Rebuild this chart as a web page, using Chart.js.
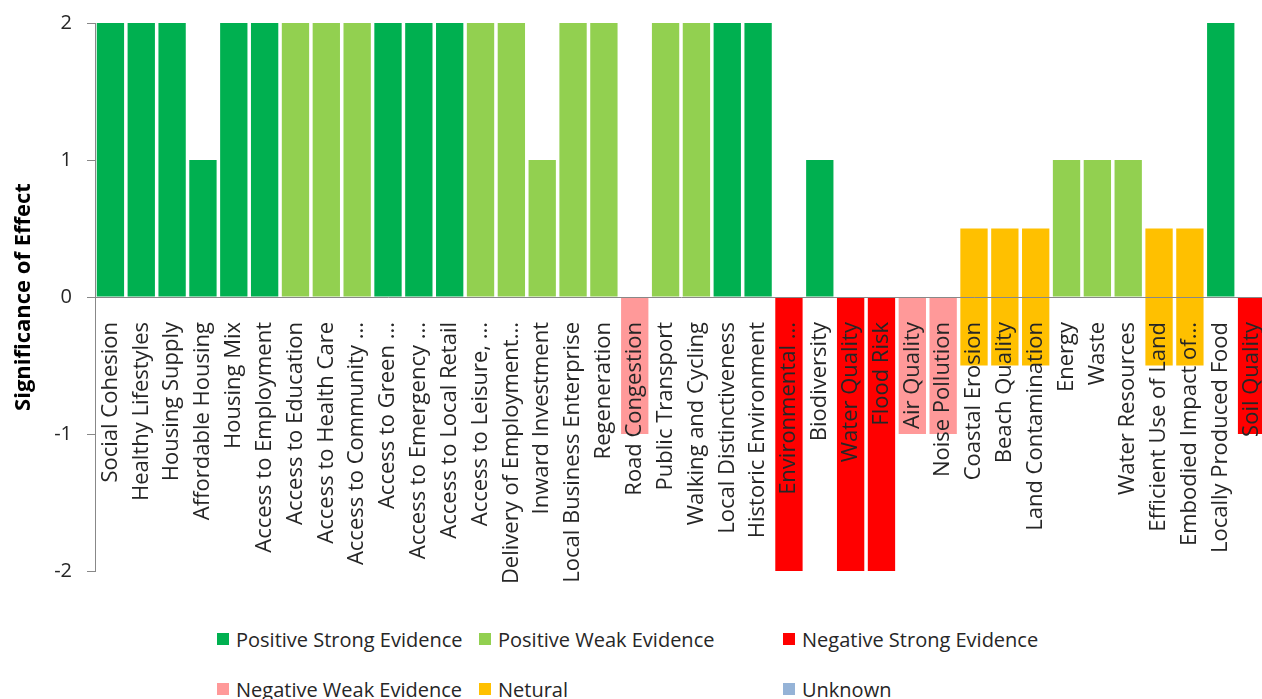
<!DOCTYPE html>
<html lang="en">
<head>
<meta charset="UTF-8">
<title>Significance of Effect</title>
<script src="https://cdn.jsdelivr.net/npm/chart.js"></script>
<style>
  html, body { margin: 0; padding: 0; background: #fff; overflow: hidden; }
  body { width: 1262px; height: 699px; position: relative; font-family: "Open Sans", sans-serif; }
  /* plot runs slightly past the right edge, like the original */
  #wrap { position: absolute; left: 0; top: 0; width: 1267px; height: 600px; }
  #legend { position: absolute; left: 217px; top: 627px; display: grid;
            grid-template-columns: 262px 304px auto; grid-auto-rows: 50px; }
  .item { display: flex; align-items: center; height: 24px; font-size: 20px; color: #262626; white-space: nowrap; }
  .box { width: 12px; height: 12px; margin-right: 7px; flex: none; }
</style>
</head>
<body>
<div id="wrap"><canvas id="chart"></canvas></div>
<div id="legend"></div>

<script>
  const _ = null;

  // categories (truncated the same way as the original axis)
  const categories = [
    'Social Cohesion', 'Healthy Lifestyles', 'Housing Supply', 'Affordable Housing', 'Housing Mix',
    'Access to Employment', 'Access to Education', 'Access to Health Care', 'Access to Community ...',
    'Access to Green ...', 'Access to Emergency ...', 'Access to Local Retail', 'Access to Leisure, ...',
    'Delivery of Employment...', 'Inward Investment', 'Local Business Enterprise', 'Regeneration',
    'Road Congestion', 'Public Transport', 'Walking and Cycling', 'Local Distinctiveness',
    'Historic Environment', 'Environmental ...', 'Biodiversity', 'Water Quality', 'Flood Risk',
    'Air Quality', 'Noise Pollution', 'Coastal Erosion', 'Beach Quality', 'Land Contamination',
    'Energy', 'Waste', 'Water Resources', 'Efficient Use of Land', 'Embodied Impact of...',
    'Locally Produced Food', 'Soil Quality'
  ];

  // one value per category, in the series it belongs to
  const positiveStrong = [
    2, 2, 2, 1, 2, 2, _, _, _, 2,
    2, 2, _, _, _, _, _, _, _, _,
    2, 2, _, 1, _, _, _, _, _, _,
    _, _, _, _, _, _, 2, _
  ];
  const positiveWeak = [
    _, _, _, _, _, _, 2, 2, 2, _,
    _, _, 2, 2, 1, 2, 2, _, 2, 2,
    _, _, _, _, _, _, _, _, _, _,
    _, 1, 1, 1, _, _, _, _
  ];
  const negativeStrong = [
    _, _, _, _, _, _, _, _, _, _,
    _, _, _, _, _, _, _, _, _, _,
    _, _, -2, _, -2, -2, _, _, _, _,
    _, _, _, _, _, _, _, -1
  ];
  const negativeWeak = [
    _, _, _, _, _, _, _, _, _, _,
    _, _, _, _, _, _, _, -1, _, _,
    _, _, _, _, _, _, -1, -1, _, _,
    _, _, _, _, _, _, _, _
  ];
  // neutral bars span both sides of zero
  const netural = [
    _, _, _, _, _, _, _, _, _, _,
    _, _, _, _, _, _, _, _, _, _,
    _, _, _, _, _, _, _, _, [-0.5, 0.5], [-0.5, 0.5],
    [-0.5, 0.5], _, _, _, [-0.5, 0.5], [-0.5, 0.5], _, _
  ];
  const unknown = categories.map(() => null);

  const yTicks = [-2, -1, 0, 1, 2];

  const seriesNames = ['Positive Strong Evidence', 'Positive Weak Evidence', 'Negative Strong Evidence',
                       'Negative Weak Evidence', 'Netural', 'Unknown'];
  const seriesValues = [positiveStrong, positiveWeak, negativeStrong, negativeWeak, netural, unknown];
  const seriesColors = ['#00B050', '#92D050', '#FF0000', '#FF9999', '#FFC000', '#95B3D7'];

  const font = 'Open Sans';

  const chart = new Chart(document.getElementById('chart'), {
    type: 'bar',
    data: {
      labels: categories,
      datasets: seriesNames.map((name, i) => ({
        label: name,
        data: seriesValues[i],
        backgroundColor: seriesColors[i],
        borderWidth: 0
      }))
    },
    options: {
      responsive: true,
      maintainAspectRatio: false,
      animation: false,
      layout: { padding: { top: 23, bottom: 29, left: 0, right: 0 } },
      datasets: { bar: { grouped: false, barPercentage: 0.886, categoryPercentage: 1 } },
      plugins: { legend: { display: false }, tooltip: { enabled: false } },
      scales: {
        x: {
          position: { y: 0 },
          grid: { display: true, drawOnChartArea: false, drawTicks: false },
          border: { display: true, color: '#888', width: 1, z: 1 },
          ticks: {
            z: 1, // labels are drawn on top of the bars
            autoSkip: false, minRotation: 90, maxRotation: 90, padding: 25,
            color: '#262626', font: { family: font, size: 22 }
          },
          // labels sit over the bars, so the axis takes no room of its own
          afterFit: (scale) => { scale.height = 0; scale.paddingLeft = 0; scale.paddingRight = 0; }
        },
        y: {
          min: yTicks[0],
          max: yTicks[yTicks.length - 1],
          afterBuildTicks: (scale) => { scale.ticks = yTicks.map(v => ({ value: v })); },
          ticks: { padding: 15, color: '#262626', font: { family: font, size: 20 } },
          grid: { drawOnChartArea: false, drawTicks: true, tickLength: 8, color: '#888' },
          border: { color: '#888' },
          title: {
            display: true, text: 'Significance of Effect', color: '#000',
            font: { family: font, size: 22, weight: 'bold' }, padding: { top: 11, bottom: 0 }
          },
          afterFit: (scale) => { scale.width = 95; scale.paddingTop = 0; scale.paddingBottom = 0; }
        }
      }
    }
  });

  // html legend in a 3-column grid, built from the chart's datasets
  const legendEl = document.getElementById('legend');
  chart.data.datasets.forEach((ds) => {
    const item = document.createElement('div');
    item.className = 'item';
    const box = document.createElement('span');
    box.className = 'box';
    box.style.background = ds.backgroundColor;
    const txt = document.createElement('span');
    txt.textContent = ds.label;
    item.appendChild(box);
    item.appendChild(txt);
    legendEl.appendChild(item);
  });
</script>
</body>
</html>
